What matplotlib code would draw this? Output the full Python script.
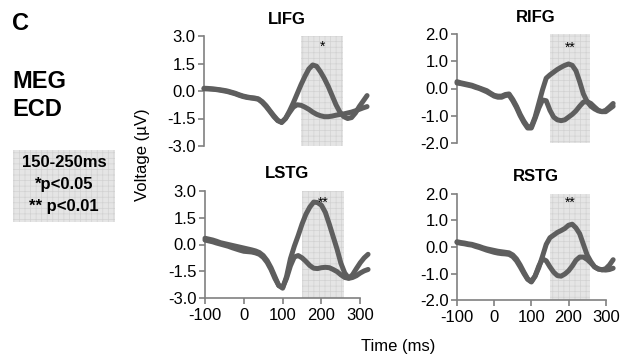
import matplotlib
matplotlib.use("Agg")
import matplotlib.pyplot as plt
from matplotlib.patches import Rectangle

plt.rcParams['font.family'] = ['Liberation Sans', 'DejaVu Sans']
plt.rcParams['axes.unicode_minus'] = False
plt.rcParams['hatch.linewidth'] = 0.5

# ---- data ----
times = list(range(-100, 321, 10))

lifg_a = [0.15, 0.14, 0.12, 0.10, 0.07, 0.04, 0.00, -0.06, -0.12, -0.20, -0.27,
          -0.32, -0.36, -0.38, -0.43, -0.58, -0.80, -1.08, -1.35, -1.60, -1.72,
          -1.50, -1.10, -0.65, -0.15, 0.35, 0.80, 1.20, 1.42, 1.35, 1.05,
          0.68, 0.25, -0.25, -0.75, -1.15, -1.40, -1.50, -1.45, -1.20, -0.85,
          -0.55, -0.25]
lifg_b = [0.12, 0.11, 0.10, 0.08, 0.05, 0.01, -0.03, -0.09, -0.15, -0.23, -0.30,
          -0.35, -0.38, -0.41, -0.45, -0.62, -0.85, -1.12, -1.40, -1.62, -1.70,
          -1.50, -1.18, -0.88, -0.75, -0.78, -0.88, -1.00, -1.15, -1.27, -1.35,
          -1.40, -1.40, -1.37, -1.32, -1.28, -1.25, -1.20, -1.15, -1.08, -1.00,
          -0.92, -0.85]

rifg_a = [0.25, 0.21, 0.18, 0.15, 0.12, 0.07, 0.02, -0.03, -0.08, -0.17, -0.25,
          -0.28, -0.28, -0.22, -0.20, -0.40, -0.65, -0.95, -1.20, -1.40, -1.40,
          -1.05, -0.55, -0.05, 0.38, 0.50, 0.60, 0.70, 0.78, 0.85, 0.90,
          0.85, 0.65, 0.25, -0.20, -0.48, -0.65, -0.75, -0.82, -0.85, -0.80,
          -0.68, -0.55]
rifg_b = [0.20, 0.18, 0.15, 0.12, 0.09, 0.04, 0.00, -0.06, -0.12, -0.20, -0.28,
          -0.32, -0.32, -0.26, -0.24, -0.45, -0.70, -1.00, -1.25, -1.45, -1.45,
          -1.10, -0.72, -0.42, -0.45, -0.80, -1.05, -1.15, -1.18, -1.15, -1.05,
          -0.95, -0.82, -0.65, -0.50, -0.48, -0.55, -0.68, -0.80, -0.85, -0.85,
          -0.75, -0.65]

lstg_a = [0.35, 0.30, 0.25, 0.18, 0.10, 0.05, 0.00, -0.05, -0.10, -0.15, -0.20,
          -0.25, -0.30, -0.36, -0.45, -0.62, -0.90, -1.30, -1.80, -2.30, -2.45,
          -1.80, -0.80, -0.10, 0.50, 1.15, 1.70, 2.10, 2.38, 2.35, 2.20,
          1.80, 1.15, 0.45, -0.25, -1.05, -1.60, -1.88, -1.70, -1.35, -1.02,
          -0.75, -0.55]
lstg_b = [0.25, 0.20, 0.15, 0.08, 0.02, -0.04, -0.10, -0.18, -0.25, -0.32, -0.38,
          -0.40, -0.42, -0.47, -0.55, -0.72, -1.00, -1.40, -1.90, -2.30, -2.40,
          -1.90, -1.20, -0.70, -0.62, -0.75, -0.95, -1.18, -1.33, -1.35, -1.30,
          -1.28, -1.30, -1.40, -1.52, -1.70, -1.85, -1.90, -1.85, -1.75, -1.60,
          -1.48, -1.40]

rstg_a = [0.20, 0.17, 0.15, 0.12, 0.10, 0.06, 0.02, -0.03, -0.07, -0.10, -0.13,
          -0.16, -0.18, -0.20, -0.22, -0.30, -0.45, -0.68, -0.95, -1.20, -1.30,
          -1.10, -0.78, -0.35, 0.10, 0.35, 0.45, 0.55, 0.62, 0.70, 0.82,
          0.86, 0.72, 0.50, 0.10, -0.30, -0.55, -0.75, -0.83, -0.86, -0.82,
          -0.68, -0.48]
rstg_b = [0.17, 0.14, 0.12, 0.09, 0.07, 0.02, -0.02, -0.07, -0.12, -0.16, -0.20,
          -0.23, -0.25, -0.26, -0.28, -0.36, -0.52, -0.75, -1.00, -1.22, -1.32,
          -1.10, -0.72, -0.45, -0.52, -0.75, -0.95, -1.08, -1.10, -1.02, -0.90,
          -0.72, -0.50, -0.38, -0.38, -0.47, -0.60, -0.75, -0.83, -0.86, -0.87,
          -0.85, -0.80]

titles = ["LIFG", "RIFG", "LSTG", "RSTG"]
sig_marks = ["*", "**", "**", "**"]
series = [(lifg_a, lifg_b), (rifg_a, rifg_b), (lstg_a, lstg_b), (rstg_a, rstg_b)]
yticks_wide = [-3.0, -1.5, 0.0, 1.5, 3.0]
yticks_narrow = [-2.0, -1.0, 0.0, 1.0, 2.0]
xticks = [-100, 0, 100, 200, 300]
window = (150, 257)

W, H = 626, 356
fig = plt.figure(figsize=(W / 100, H / 100), dpi=100)

# pixel boxes: (left, right, top, bottom)
boxes = [(204, 369, 36, 146), (457, 615, 34, 143),
         (205, 370, 191, 298), (457, 615, 194, 300)]
sig_y = [2.4, 1.5, 2.35, 1.65]

line_col = '#5e5e5e'
spine_col = '#808080'
shade_face = '#e5e5e5'
shade_edge = '#d2d2d2'

for i, (l, r, t, b) in enumerate(boxes):
    ax = fig.add_axes([l / W, 1 - b / H, (r - l) / W, (b - t) / H])
    yt = yticks_wide if i in (0, 2) else yticks_narrow
    ax.set_xlim(-100, 325)
    ax.set_ylim(yt[0], yt[-1])
    ax.axvspan(window[0], window[1], facecolor=shade_face, edgecolor=shade_edge,
               hatch='+++', linewidth=0, zorder=0)
    for s in series[i]:
        ax.plot(times, s, color=line_col, lw=3.6, solid_joinstyle='round',
                solid_capstyle='round', zorder=3, clip_on=False)
    ax.set_yticks(yt)
    ax.set_yticklabels([f"{v:.1f}" for v in yt])
    ax.set_title(titles[i], fontsize=12, fontweight='bold', pad=9)
    ax.text(205, sig_y[i], sig_marks[i], ha='center', va='center', fontsize=10,
            zorder=4)
    for sp in ['top', 'right']:
        ax.spines[sp].set_visible(False)
    ax.spines['left'].set_color(spine_col)
    ax.spines['left'].set_linewidth(1.2)
    ax.tick_params(axis='y', direction='out', length=4, width=1.2,
                   color=spine_col, labelsize=12, pad=2)
    ax.patch.set_visible(False)
    if i < 2:
        ax.spines['bottom'].set_visible(False)
        ax.set_xticks([])
    else:
        ax.spines['bottom'].set_color(spine_col)
        ax.spines['bottom'].set_linewidth(1.2)
        ax.spines['bottom'].set_bounds(-100, 300)
        ax.set_xticks(xticks)
        ax.set_xticklabels([str(v) for v in xticks])
        ax.tick_params(axis='x', direction='out', length=4, width=1.2,
                       color=spine_col, labelsize=12, pad=3)

# left annotations
fig.text(12 / W, 1 - 24 / H, "C", fontsize=17, fontweight='bold', ha='left', va='center')
fig.text(12 / W, 1 - 82 / H, "MEG", fontsize=17, fontweight='bold', ha='left', va='center')
fig.text(12 / W, 1 - 110 / H, "ECD", fontsize=17, fontweight='bold', ha='left', va='center')

box = Rectangle((13 / W, 1 - 222 / H), 102 / W, 72 / H, transform=fig.transFigure,
                facecolor=shade_face, edgecolor=shade_edge, hatch='+++', linewidth=0)
fig.patches.append(box)
for txt, yy in [("150-250ms", 163), ("*p<0.05", 185), ("** p<0.01", 207)]:
    fig.text(64 / W, 1 - yy / H, txt, fontsize=12, fontweight='bold',
             ha='center', va='center')

fig.text(142 / W, 1 - 155 / H, "Voltage (µV)", fontsize=12, rotation=90,
         ha='center', va='center')
fig.text(398 / W, 1 - 346 / H, "Time (ms)", fontsize=12, ha='center', va='center')

fig.savefig("out.png", dpi=100)
